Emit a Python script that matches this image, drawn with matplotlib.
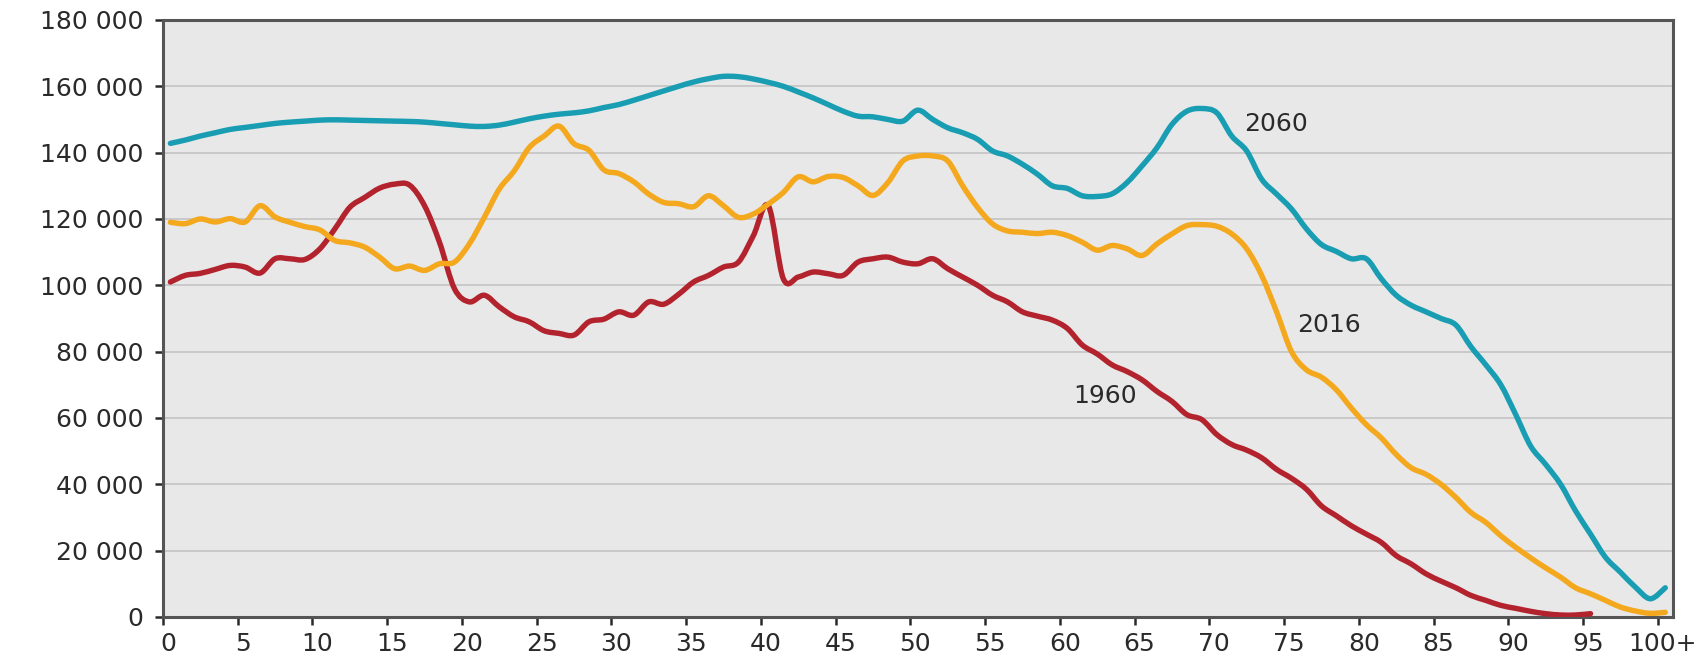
import matplotlib
matplotlib.use("Agg")
import matplotlib.pyplot as plt
import matplotlib.transforms as mtransforms
from matplotlib.path import Path
from matplotlib.patches import PathPatch
from matplotlib.ticker import FuncFormatter, FixedLocator
import numpy as np

ages = list(range(0, 101))
age_labels = [str(a) for a in range(0, 100, 5)] + ["100+"]

pop_1960 = [101, 103, 103.6, 104.8, 106, 105.5, 103.7, 108, 108, 107.8,
            111, 117, 123.5, 126.5, 129.3, 130.5, 130.2, 124, 113, 99,
            95, 97, 93.5, 90.5, 89, 86.3, 85.5, 85, 89, 89.8,
            92, 91, 95, 94.3, 97.3, 101, 103, 105.5, 107, 115,
            124, 102, 102.5, 104, 103.5, 103, 107, 108, 108.5, 107,
            106.5, 108, 105, 102.5, 100, 97, 95, 92, 90.7, 89.5,
            87, 82, 79.3, 76, 74, 71.5, 68, 65, 61, 59.5,
            55, 52, 50.3, 48, 44.5, 41.8, 38.5, 33.5, 30.5, 27.5,
            25, 22.5, 18.5, 16, 13, 10.8, 8.8, 6.5, 5, 3.5,
            2.6, 1.7, 1.0, 0.6, 0.6, 1.0]

pop_2016 = [119, 118.6, 120, 119.1, 120.1, 119.1, 124, 120.6, 119, 117.7,
            116.7, 113.5, 112.8, 111.5, 108.5, 105, 105.8, 104.5, 106.5, 107,
            112.5, 120.5, 129, 134.5, 141.5, 145, 148, 142.7, 140.7, 134.8,
            133.7, 131.2, 127.5, 125, 124.6, 123.7, 127, 124, 120.5, 121.5,
            124.5, 128, 132.7, 131.2, 132.8, 132.5, 130, 127.1, 131, 137.5,
            139, 139, 137.5, 130, 123.5, 118.5, 116.4, 116, 115.6, 116,
            115, 113, 110.6, 112, 111, 109, 112.5, 115.5, 118, 118.3,
            117.8, 115.5, 111, 103, 92, 80, 74.5, 72.3, 68.5, 63,
            58, 54, 49, 45, 43, 40, 36, 31.5, 28.5, 24.5,
            21, 17.8, 14.8, 12, 8.8, 7, 5, 3, 1.8, 1.1,
            1.4]

pop_2060 = [142.8, 143.8, 145, 146, 147, 147.6, 148.2, 148.8, 149.2, 149.5,
            149.8, 149.9, 149.8, 149.7, 149.6, 149.5, 149.4, 149.2, 148.8, 148.4,
            148, 147.9, 148.3, 149.2, 150.2, 151, 151.6, 152, 152.6, 153.6,
            154.5, 155.8, 157.2, 158.6, 160, 161.3, 162.3, 163, 162.9, 162.2,
            161.2, 160, 158.3, 156.5, 154.5, 152.5, 151, 150.8, 150, 149.5,
            152.8, 150, 147.5, 146, 144, 140.5, 139, 136.5, 133.5, 130,
            129.2, 127, 126.8, 127.6, 131, 136, 141.5, 148.5, 152.5, 153.3,
            152, 145, 140.5, 132, 127.5, 123, 117, 112.3, 110.2, 108,
            108, 102, 97, 94, 92, 90, 88, 81.5, 76, 70,
            61, 51.5, 46, 40, 32, 25, 18, 13.5, 9, 5.5,
            8.8]

series_names = ["1960", "2016", "2060"]
series_values = [pop_1960, pop_2016, pop_2060]
series_colors = ["#B3232D", "#F4A81D", "#189DB2"]
label_pos = [(60.9, 66600), (75.85, 88000), (72.3, 148600)]

plt.rcParams['font.family'] = ['DejaVu Sans']


def smooth_path(x, y):
    """Excel-style smoothed line: cubic Bezier segments through the data points."""
    n = len(x)
    verts = [(x[0], y[0])]
    codes = [Path.MOVETO]
    for i in range(n - 1):
        x0, y0 = (x[i - 1], y[i - 1]) if i > 0 else (x[i], y[i])
        x1, y1 = x[i], y[i]
        x2, y2 = x[i + 1], y[i + 1]
        x3, y3 = (x[i + 2], y[i + 2]) if i + 2 < n else (x[i + 1], y[i + 1])
        c1 = (x1 + (x2 - x0) / 6.0, y1 + (y2 - y0) / 6.0)
        c2 = (x2 - (x3 - x1) / 6.0, y2 - (y3 - y1) / 6.0)
        verts += [c1, c2, (x2, y2)]
        codes += [Path.CURVE4, Path.CURVE4, Path.CURVE4]
    return Path(verts, codes)


fig = plt.figure(figsize=(17.06, 6.57), dpi=100)
ax = fig.add_axes([0.0955, 0.0609, 0.885, 0.9087])
ax.set_facecolor("#E8E8E8")

for name, vals, col in zip(series_names, series_values, series_colors):
    x = np.array(ages[:len(vals)], dtype=float) + 0.5
    y = np.array(vals, dtype=float) * 1000
    patch = PathPatch(smooth_path(x, y), facecolor='none', edgecolor=col, lw=3.9,
                      capstyle='round', joinstyle='round', zorder=3)
    ax.add_patch(patch)

for name, (px, py) in zip(series_names, label_pos):
    ax.text(px, py, name, fontsize=18, color="#2a2a2a", ha='left', va='center', zorder=4)

ax.set_xlim(0, 101)
ax.set_ylim(0, 180000)
ax.set_yticks(np.arange(0, 180001, 20000))
ax.yaxis.set_major_formatter(FuncFormatter(lambda v, p: f"{int(v):,}".replace(",", " ")))
ax.xaxis.set_major_locator(FixedLocator(list(range(0, 101, 5))))
ax.set_xticklabels(age_labels)

ax.grid(axis='y', color="#C6C6C6", lw=1.3, zorder=0)
ax.set_axisbelow(True)

for s in ax.spines.values():
    s.set_color("#555555")
    s.set_linewidth(2.2)

ax.tick_params(axis='both', direction='out', colors="#2a2a2a", labelsize=18,
               width=1.8, length=6)
ax.tick_params(axis='y', pad=8)
ax.tick_params(axis='x', pad=5)

offset = mtransforms.ScaledTranslation(5/100, 0, fig.dpi_scale_trans)
for lbl in ax.get_xticklabels():
    lbl.set_transform(lbl.get_transform() + offset)

fig.savefig("out.png", dpi=100, facecolor="white")
